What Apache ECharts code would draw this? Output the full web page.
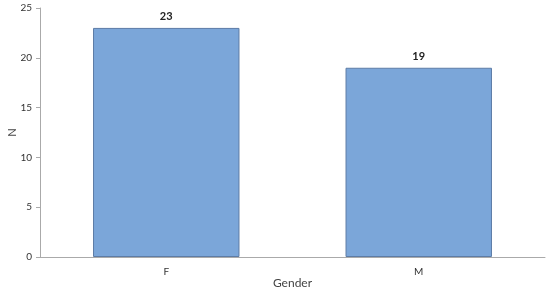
<!DOCTYPE html>
<html>
<head>
<meta charset="utf-8">
<script src="https://cdn.jsdelivr.net/npm/echarts@6/dist/echarts.min.js"></script>
<style>
  html, body { margin: 0; padding: 0; background: #fff; }
  #chart { width: 550px; height: 293px; }
</style>
</head>
<body>
<div id="chart"></div>
<script>
var categories = ['F', 'M']
var counts = [23, 19]
var yTicks = [0, 5, 10, 15, 20, 25]

var chart = echarts.init(document.getElementById('chart'))
var font = 'Lato, "Open Sans", sans-serif'

var option = {
  animation: false,
  textStyle: { fontFamily: font },
  grid: { left: 40, right: 5, top: 8, bottom: 36, containLabel: false, outerBoundsMode: 'none' },
  xAxis: {
    type: 'category',
    data: categories,
    name: 'Gender',
    nameLocation: 'middle',
    nameGap: 20,
    nameMoveOverlap: false,
    nameTextStyle: { color: '#444', fontSize: 12, fontFamily: font },
    axisLine: { lineStyle: { color: '#aaa' } },
    axisTick: { alignWithLabel: true, length: 4, lineStyle: { color: '#aaa' } },
    axisLabel: { color: '#333', fontSize: 10, margin: 10 }
  },
  yAxis: {
    type: 'value',
    min: yTicks[0],
    max: yTicks[yTicks.length - 1],
    interval: 5,
    name: 'N',
    nameLocation: 'middle',
    nameGap: 22,
    nameMoveOverlap: false,
    nameTextStyle: { color: '#444', fontSize: 11, fontFamily: font },
    axisLine: { show: true, lineStyle: { color: '#aaa' } },
    axisTick: { show: true, length: 4, lineStyle: { color: '#aaa' } },
    axisLabel: { color: '#333', fontSize: 10, margin: 8 },
    splitLine: { show: false }
  },
  series: [
    {
      type: 'bar',
      data: counts,
      barWidth: '58%',
      itemStyle: { color: '#7ba6d9', borderColor: '#5d7ca6', borderWidth: 1 },
      label: {
        show: true,
        position: 'top',
        distance: 6,
        color: '#222',
        fontSize: 11,
        fontWeight: 'bold'
      }
    }
  ]
}
chart.setOption(option)
</script>
</body>
</html>
